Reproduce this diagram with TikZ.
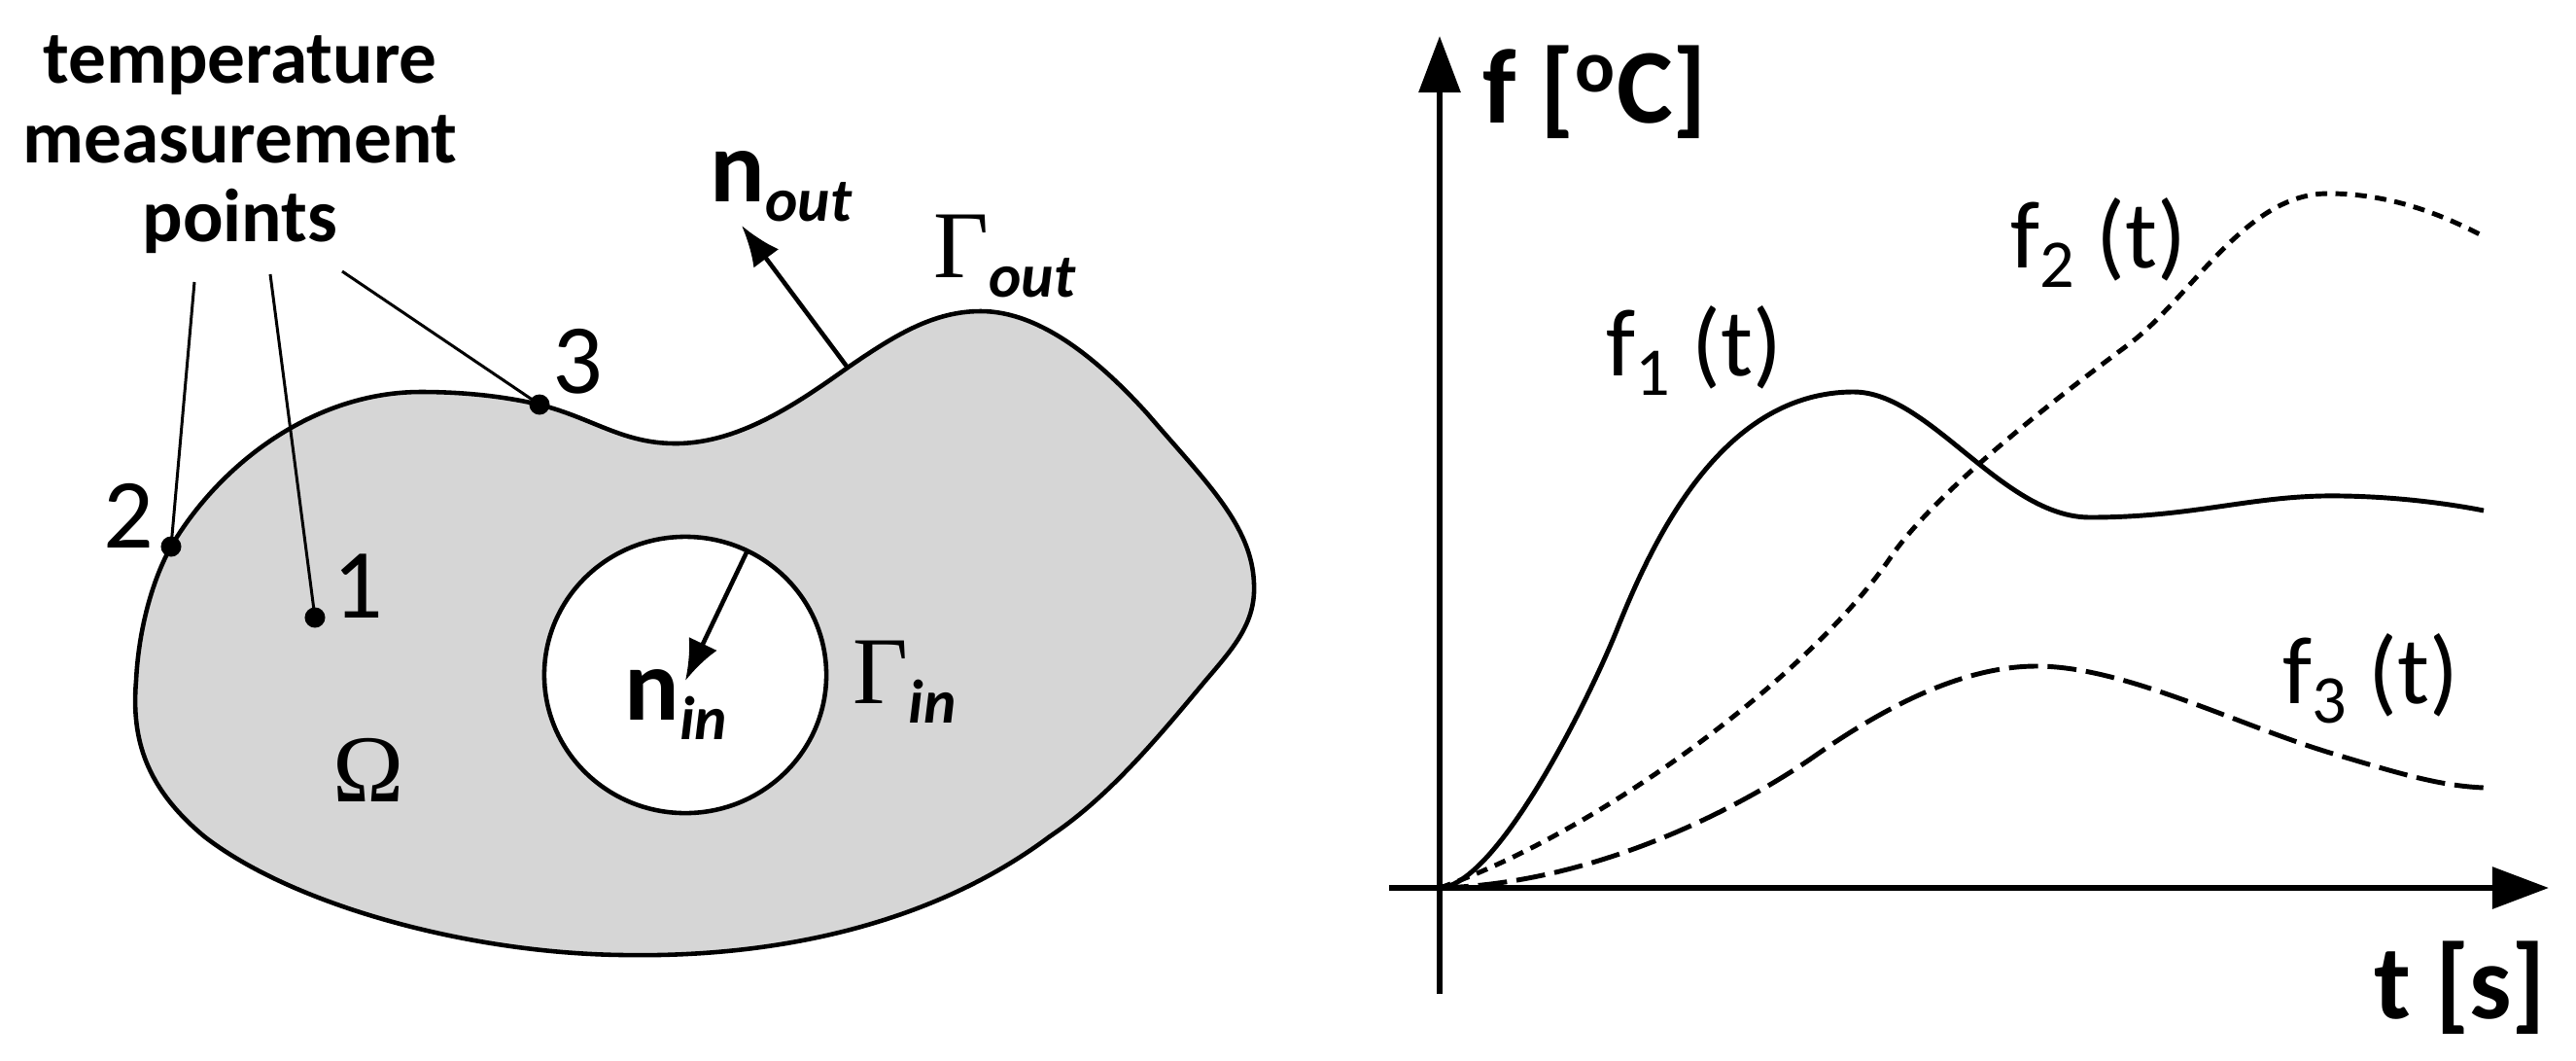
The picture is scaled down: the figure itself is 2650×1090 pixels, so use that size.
\documentclass[tikz,border=0pt]{standalone}
\usepackage{fontspec}
\setmainfont{Carlito}
\newfontfamily\gfont{Liberation Serif}
\usetikzlibrary{arrows.meta}
\definecolor{regiongray}{RGB}{214,214,214}
\newcommand{\fsublabel}[1]{f\raisebox{-0.2cm}{\fontsize{20}{20}\selectfont #1}\ (t)}
\newcommand{\subbi}[1]{\raisebox{-0.2cm}{\fontsize{18}{18}\selectfont\bfseries\itshape #1}}
\begin{document}
\begin{tikzpicture}[x=0.01cm,y=-0.01cm,
  outline/.style={line width=1.3pt, line join=round},
  leader/.style={line width=0.85pt},
  dot/.style={circle, fill=black, inner sep=0pt, minimum size=0.21cm},
  normalarrow/.style={line width=1.3pt, -{Latex[length=0.42cm,width=0.32cm]}},
  axisline/.style={line width=1.7pt, -{Triangle[length=0.58cm,width=0.42cm]}},
  curve/.style={line width=1.4pt},
  txt/.style={inner sep=0pt},
  headfont/.style={font=\fontsize{22}{23}\selectfont\bfseries},
  numfont/.style={font=\fontsize{29}{29}\selectfont},
  greekfont/.style={font=\fontsize{28}{28}\selectfont\gfont},
  vecfont/.style={font=\fontsize{30}{30}\selectfont\bfseries},
  funcfont/.style={font=\fontsize{28}{28}\selectfont},
  axisfont/.style={font=\fontsize{31}{31}\selectfont\bfseries}
]
\useasboundingbox (0,0) rectangle (2650,1090);

% ---------- left panel: domain ----------
\draw[outline, fill=regiongray]
  (176,562) .. controls (226,477) and (323,403) .. (433,403)
  .. controls (480,403) and (520,408) .. (555,416)
  .. controls (610,430) and (640,456) .. (695,456)
  .. controls (760,456) and (820,415) .. (872,378)
  .. controls (920,345) and (960,320) .. (1009,320)
  .. controls (1070,320) and (1130,370) .. (1180,425)
  .. controls (1240,495) and (1288,540) .. (1290,600)
  .. controls (1292,640) and (1270,665) .. (1240,700)
  .. controls (1190,760) and (1140,820) .. (1080,860)
  .. controls (960,950) and (800,985) .. (640,982)
  .. controls (480,980) and (300,930) .. (210,860)
  .. controls (150,810) and (135,760) .. (140,700)
  .. controls (143,640) and (160,590) .. (176,562) -- cycle;
\draw[outline, fill=white] (705,694) ellipse [x radius=1.45cm, y radius=1.42cm];

% measurement points
\node[dot] (p1) at (324,635) {};
\node[dot] (p2) at (176,562) {};
\node[dot] (p3) at (555,416) {};
\node[txt, numfont, anchor=base] (l1) at (368,635) {1};
\node[txt, numfont, anchor=base] (l2) at (132,563) {2};
\node[txt, numfont, anchor=base] (l3) at (594,404) {3};

% caption
\node[txt, headfont, anchor=base] (cap1) at (247,85) {temperature};
\node[txt, headfont, anchor=base] (cap2) at (247,167) {measurement};
\node[txt, headfont, anchor=base] (cap3) at (247,248) {points};
\coordinate (c2) at (200,290);
\coordinate (c1) at (278,282);
\coordinate (c3) at (352,279);
\draw[leader] (c2) -- (p2.center);
\draw[leader] (c1) -- (p1.center);
\draw[leader] (c3) -- (p3.center);

% normals
\coordinate (nob) at (872,378);
\coordinate (not) at (763,232);
\draw[normalarrow] (nob) -- (not);
\coordinate (nib) at (768,568);
\coordinate (nit) at (705,700);
\draw[normalarrow] (nib) -- (nit);

\node[txt, vecfont, anchor=base west] (nout) at (730,207) {n\subbi{out}};
\node[txt, vecfont, anchor=base west] (nin) at (642,740) {n\subbi{in}};
\node[txt, anchor=base west] (gout) at (960,285) {{\fontsize{28}{28}\selectfont\gfont Γ}\subbi{out}};
\node[txt, anchor=base west] (gin) at (877,723) {{\fontsize{28}{28}\selectfont\gfont Γ}\subbi{in}};
\node[txt, greekfont, anchor=base] (omega) at (379,824) {Ω};

% ---------- right panel: graph ----------
\coordinate (O) at (1481,913);
\coordinate (yb) at (1481,1022);
\coordinate (yt) at (1481,37);
\coordinate (xb) at (1429,913);
\coordinate (xt) at (2622,913);
\draw[axisline] (yb) -- (yt);
\draw[axisline] (xb) -- (xt);
\node[txt, axisfont, anchor=base west] (ylab) at (1525,126) {f [\textsuperscript{o}C]};
\node[txt, axisfont, anchor=base east] (xlab) at (2620,1047) {t [s]};

% f1 solid
\draw[curve] (O)
  .. controls (1540,910) and (1634,721) .. (1664,646)
  .. controls (1704,546) and (1775,403) .. (1907,403)
  .. controls (1985,403) and (2060,532) .. (2150,532)
  .. controls (2260,532) and (2320,508) .. (2410,510)
  .. controls (2475,511) and (2530,520) .. (2555,525);
% f2 dotted
\draw[curve, dash pattern=on 3.4pt off 2.4pt] (O)
  .. controls (1651,853) and (1867,690) .. (1947,570)
  .. controls (1997,500) and (2120,406) .. (2190,354)
  .. controls (2255,305) and (2310,199) .. (2395,199)
  .. controls (2465,199) and (2520,225) .. (2555,243);
% f3 dashed
\draw[curve, dash pattern=on 8.5pt off 2.8pt] (O)
  .. controls (1660,908) and (1816,813) .. (1866,778)
  .. controls (1940,726) and (2020,685) .. (2095,685)
  .. controls (2185,685) and (2300,745) .. (2400,775)
  .. controls (2470,796) and (2510,808) .. (2555,810);

\node[txt, funcfont, anchor=base west] (f1) at (1652,386) {\fsublabel{1}};
\node[txt, funcfont, anchor=base west] (f2) at (2068,275) {\fsublabel{2}};
\node[txt, funcfont, anchor=base west] (f3) at (2348,723) {\fsublabel{3}};
\end{tikzpicture}
\end{document}
